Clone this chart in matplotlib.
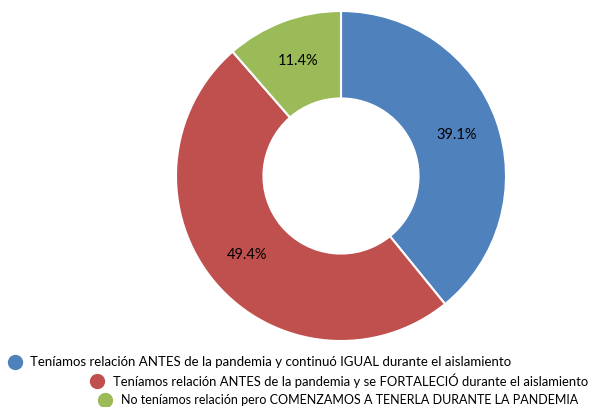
import numpy as np
import matplotlib.pyplot as plt
from matplotlib.lines import Line2D

categories = [
    "Teníamos relación ANTES de la pandemia y continuó IGUAL durante el aislamiento",
    "Teníamos relación ANTES de la pandemia y se FORTALECIÓ durante el aislamiento",
    "No teníamos relación pero COMENZAMOS A TENERLA DURANTE LA PANDEMIA",
]
values = [39.1, 49.4, 11.4]
colors = ["#4F81BD", "#C0504D", "#9BBB59"]

plt.rcParams['font.family'] = ['Lato', 'DejaVu Sans']

W, H = 594, 407
fig = plt.figure(figsize=(W / 100, H / 100), dpi=100)

# donut placed in pixel coordinates
cx, cy, r = 341, 176, 165
ax = fig.add_axes([(cx - r) / W, (H - cy - r) / H, 2 * r / W, 2 * r / H])
wedges, _ = ax.pie(values, colors=colors, startangle=90, counterclock=False,
                   radius=1, wedgeprops=dict(width=0.53, edgecolor='white', linewidth=1.5))
ax.set_xlim(-1, 1)
ax.set_ylim(-1, 1)
ax.set_aspect('equal')
ax.axis('off')

for w, v in zip(wedges, values):
    ang = np.deg2rad((w.theta1 + w.theta2) / 2)
    ax.text(0.745 * np.cos(ang), 0.745 * np.sin(ang), f"{v:.1f}%",
            ha='center', va='center', fontsize=10.5, color='black')

# staggered legend: marker x, text x, y, target text width (px)
legend_pos = [(15, 30, 362, 482), (97, 113, 381, 478), (105, 121, 400, 461)]
renderer = fig.canvas.get_renderer()
for (mx, tx, ty, tw), lab, c in zip(legend_pos, categories, colors):
    fig.add_artist(Line2D([mx / W], [1 - ty / H], marker='o', markersize=10,
                          color=c, linestyle='none', transform=fig.transFigure))
    t = fig.text(tx / W, 1 - ty / H, lab, ha='left', va='center', fontsize=9.5)
    w = t.get_window_extent(renderer).width
    t.set_fontsize(9.5 * tw / w)

fig.savefig('out.png', dpi=100)
